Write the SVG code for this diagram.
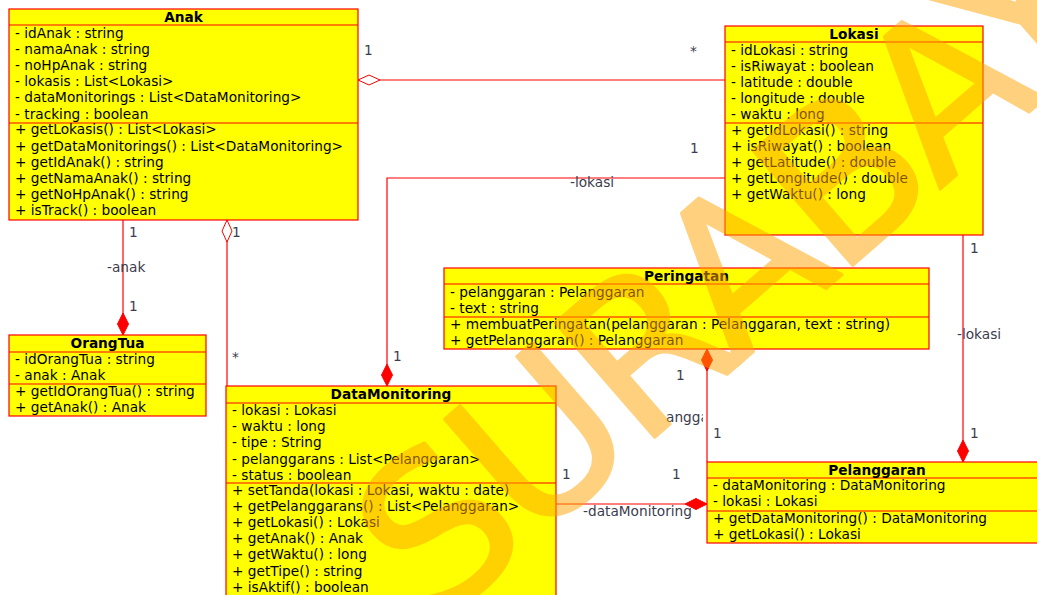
<svg xmlns="http://www.w3.org/2000/svg" width="1037" height="595" viewBox="0 0 1037 595">
  <style>
    .box { fill: #FFFF00; stroke: #FF0000; stroke-width: 1.2; }
    .div { stroke: #FF0000; stroke-width: 1.2; }
    .t { font-family: "DejaVu Sans", sans-serif; font-size: 13.7px; fill: #000000; }
    .title { font-family: "DejaVu Sans", sans-serif; font-size: 13.7px; font-weight: bold; fill: #000000; text-anchor: middle; }
    .conn { fill: none; stroke: #FF0000; stroke-width: 1.2; }
    .lbl { font-family: "DejaVu Sans", sans-serif; font-size: 13.7px; fill: #3c3c4e; }
    .wm { font-family: "DejaVu Sans", sans-serif; font-size: 208px; letter-spacing: -8px; fill: #FFA500; stroke: #FFA500; stroke-width: 3; stroke-linejoin: round; }
  </style>
  <defs>
    <!-- composition: filled diamond, aggregation: hollow diamond -->
    <marker id="filled" markerUnits="userSpaceOnUse" markerWidth="30" markerHeight="30" refX="0" refY="0" orient="auto-start-reverse" overflow="visible">
      <path d="M0,0 L-11,-5.5 L-22,0 L-11,5.5 Z" fill="#FF0000" stroke="#FF0000" stroke-width="1"/>
    </marker>
    <marker id="hollow" markerUnits="userSpaceOnUse" markerWidth="30" markerHeight="30" refX="0" refY="0" orient="auto-start-reverse" overflow="visible">
      <path d="M0,0 L-11,-5 L-22,0 L-11,5 Z" fill="#FFFFFF" stroke="#FF0000" stroke-width="1"/>
    </marker>
    <clipPath id="clipAngga">
      <rect x="600" y="400" width="103" height="40"/>
    </clipPath>
  </defs>

  <rect width="1037" height="595" fill="#FFFFFF"/>

  <!-- connectors -->
  <g id="connectors">
    <path class="conn" d="M358,80 H725" marker-start="url(#hollow)"/>
    <path class="conn" d="M725,178 H387 V386" marker-end="url(#filled)"/>
    <path class="conn" d="M123,220 V335" marker-end="url(#filled)"/>
    <path class="conn" d="M227,220 V386" marker-start="url(#hollow)"/>
    <path class="conn" d="M963,235 V462" marker-end="url(#filled)"/>
    <path class="conn" d="M707,349 V462" marker-start="url(#filled)"/>
    <path class="conn" d="M556,504 H707" marker-end="url(#filled)"/>

    <text class="lbl" x="364" y="55">1</text>
    <text class="lbl" x="690" y="56">*</text>
    <text class="lbl" x="690" y="153">1</text>
    <text class="lbl" x="570" y="187">-lokasi</text>
    <text class="lbl" x="393" y="361">1</text>
    <text class="lbl" x="129" y="237">1</text>
    <text class="lbl" x="107" y="272">-anak</text>
    <text class="lbl" x="129" y="311">1</text>
    <text class="lbl" x="232" y="237">1</text>
    <text class="lbl" x="232" y="362">*</text>
    <text class="lbl" x="970" y="253">1</text>
    <text class="lbl" x="957" y="339">-lokasi</text>
    <text class="lbl" x="970" y="438">1</text>
    <text class="lbl" x="676" y="380">1</text>
    <text class="lbl" x="666" y="422" clip-path="url(#clipAngga)">angga</text>
    <text class="lbl" x="713" y="438">1</text>
    <text class="lbl" x="562" y="479">1</text>
    <text class="lbl" x="672" y="479">1</text>
    <text class="lbl" x="583" y="516">-dataMonitoring</text>
  </g>

  <!-- Anak -->
  <g id="Anak">
    <rect class="box" x="9" y="9" width="349" height="211"/>
    <line class="div" x1="9" y1="25" x2="358" y2="25"/>
    <line class="div" x1="9" y1="123" x2="358" y2="123"/>
    <text class="title" x="183.5" y="21.5">Anak</text>
    <text class="t" x="15" y="37.5">- idAnak : string</text>
    <text class="t" x="15" y="53.7">- namaAnak : string</text>
    <text class="t" x="15" y="69.9">- noHpAnak : string</text>
    <text class="t" x="15" y="86.1">- lokasis : List&lt;Lokasi&gt;</text>
    <text class="t" x="15" y="102.3">- dataMonitorings : List&lt;DataMonitoring&gt;</text>
    <text class="t" x="15" y="118.5">- tracking : boolean</text>
    <text class="t" x="15" y="134.3">+ getLokasis() : List&lt;Lokasi&gt;</text>
    <text class="t" x="15" y="150.5">+ getDataMonitorings() : List&lt;DataMonitoring&gt;</text>
    <text class="t" x="15" y="166.7">+ getIdAnak() : string</text>
    <text class="t" x="15" y="182.9">+ getNamaAnak() : string</text>
    <text class="t" x="15" y="199.1">+ getNoHpAnak() : string</text>
    <text class="t" x="15" y="215.3">+ isTrack() : boolean</text>
  </g>

  <!-- Lokasi -->
  <g id="Lokasi">
    <rect class="box" x="725" y="26" width="258" height="209"/>
    <line class="div" x1="725" y1="42" x2="983" y2="42"/>
    <line class="div" x1="725" y1="123" x2="983" y2="123"/>
    <text class="title" x="854" y="38.5">Lokasi</text>
    <text class="t" x="731" y="54.5">- idLokasi : string</text>
    <text class="t" x="731" y="70.7">- isRiwayat : boolean</text>
    <text class="t" x="731" y="86.9">- latitude : double</text>
    <text class="t" x="731" y="103.1">- longitude : double</text>
    <text class="t" x="731" y="119.3">- waktu : long</text>
    <text class="t" x="731" y="134.5">+ getIdLokasi() : string</text>
    <text class="t" x="731" y="150.7">+ isRiwayat() : boolean</text>
    <text class="t" x="731" y="166.9">+ getLatitude() : double</text>
    <text class="t" x="731" y="183.1">+ getLongitude() : double</text>
    <text class="t" x="731" y="199.3">+ getWaktu() : long</text>
  </g>

  <!-- OrangTua -->
  <g id="OrangTua">
    <rect class="box" x="9" y="335" width="197" height="81"/>
    <line class="div" x1="9" y1="352" x2="206" y2="352"/>
    <line class="div" x1="9" y1="384" x2="206" y2="384"/>
    <text class="title" x="107.5" y="347.5">OrangTua</text>
    <text class="t" x="15" y="363.5">- idOrangTua : string</text>
    <text class="t" x="15" y="379.7">- anak : Anak</text>
    <text class="t" x="15" y="395.5">+ getIdOrangTua() : string</text>
    <text class="t" x="15" y="411.7">+ getAnak() : Anak</text>
  </g>

  <!-- DataMonitoring -->
  <g id="DataMonitoring">
    <rect class="box" x="226" y="386" width="330" height="220"/>
    <line class="div" x1="226" y1="403" x2="556" y2="403"/>
    <line class="div" x1="226" y1="483" x2="556" y2="483"/>
    <text class="title" x="391" y="398.5">DataMonitoring</text>
    <text class="t" x="232" y="415">- lokasi : Lokasi</text>
    <text class="t" x="232" y="431.2">- waktu : long</text>
    <text class="t" x="232" y="447.4">- tipe : String</text>
    <text class="t" x="232" y="463.6">- pelanggarans : List&lt;Pelanggaran&gt;</text>
    <text class="t" x="232" y="479.8">- status : boolean</text>
    <text class="t" x="232" y="494.5">+ setTanda(lokasi : Lokasi, waktu : date)</text>
    <text class="t" x="232" y="510.7">+ getPelanggarans() : List&lt;Pelanggaran&gt;</text>
    <text class="t" x="232" y="526.9">+ getLokasi() : Lokasi</text>
    <text class="t" x="232" y="543.1">+ getAnak() : Anak</text>
    <text class="t" x="232" y="559.3">+ getWaktu() : long</text>
    <text class="t" x="232" y="575.5">+ getTipe() : string</text>
    <text class="t" x="232" y="591.7">+ isAktif() : boolean</text>
  </g>

  <!-- Peringatan -->
  <g id="Peringatan">
    <rect class="box" x="444" y="268" width="485" height="81"/>
    <line class="div" x1="444" y1="284" x2="929" y2="284"/>
    <line class="div" x1="444" y1="317" x2="929" y2="317"/>
    <text class="title" x="686.5" y="280.5">Peringatan</text>
    <text class="t" x="450" y="296.5">- pelanggaran : Pelanggaran</text>
    <text class="t" x="450" y="312.7">- text : string</text>
    <text class="t" x="450" y="328.5">+ membuatPeringatan(pelanggaran : Pelanggaran, text : string)</text>
    <text class="t" x="450" y="344.7">+ getPelanggaran() : Pelanggaran</text>
  </g>

  <!-- Pelanggaran -->
  <g id="Pelanggaran">
    <rect class="box" x="707" y="462" width="340" height="81"/>
    <line class="div" x1="707" y1="478" x2="1047" y2="478"/>
    <line class="div" x1="707" y1="511" x2="1047" y2="511"/>
    <text class="title" x="877" y="474.5">Pelanggaran</text>
    <text class="t" x="713" y="490">- dataMonitoring : DataMonitoring</text>
    <text class="t" x="713" y="506.2">- lokasi : Lokasi</text>
    <text class="t" x="713" y="522.5">+ getDataMonitoring() : DataMonitoring</text>
    <text class="t" x="713" y="538.7">+ getLokasi() : Lokasi</text>
  </g>

  <!-- translucent watermark across the sheet -->
  <g id="watermark" opacity="0.5">
    <text class="wm" transform="translate(822,292) rotate(-41)" text-anchor="middle">SURABAYA</text>
  </g>
</svg>
